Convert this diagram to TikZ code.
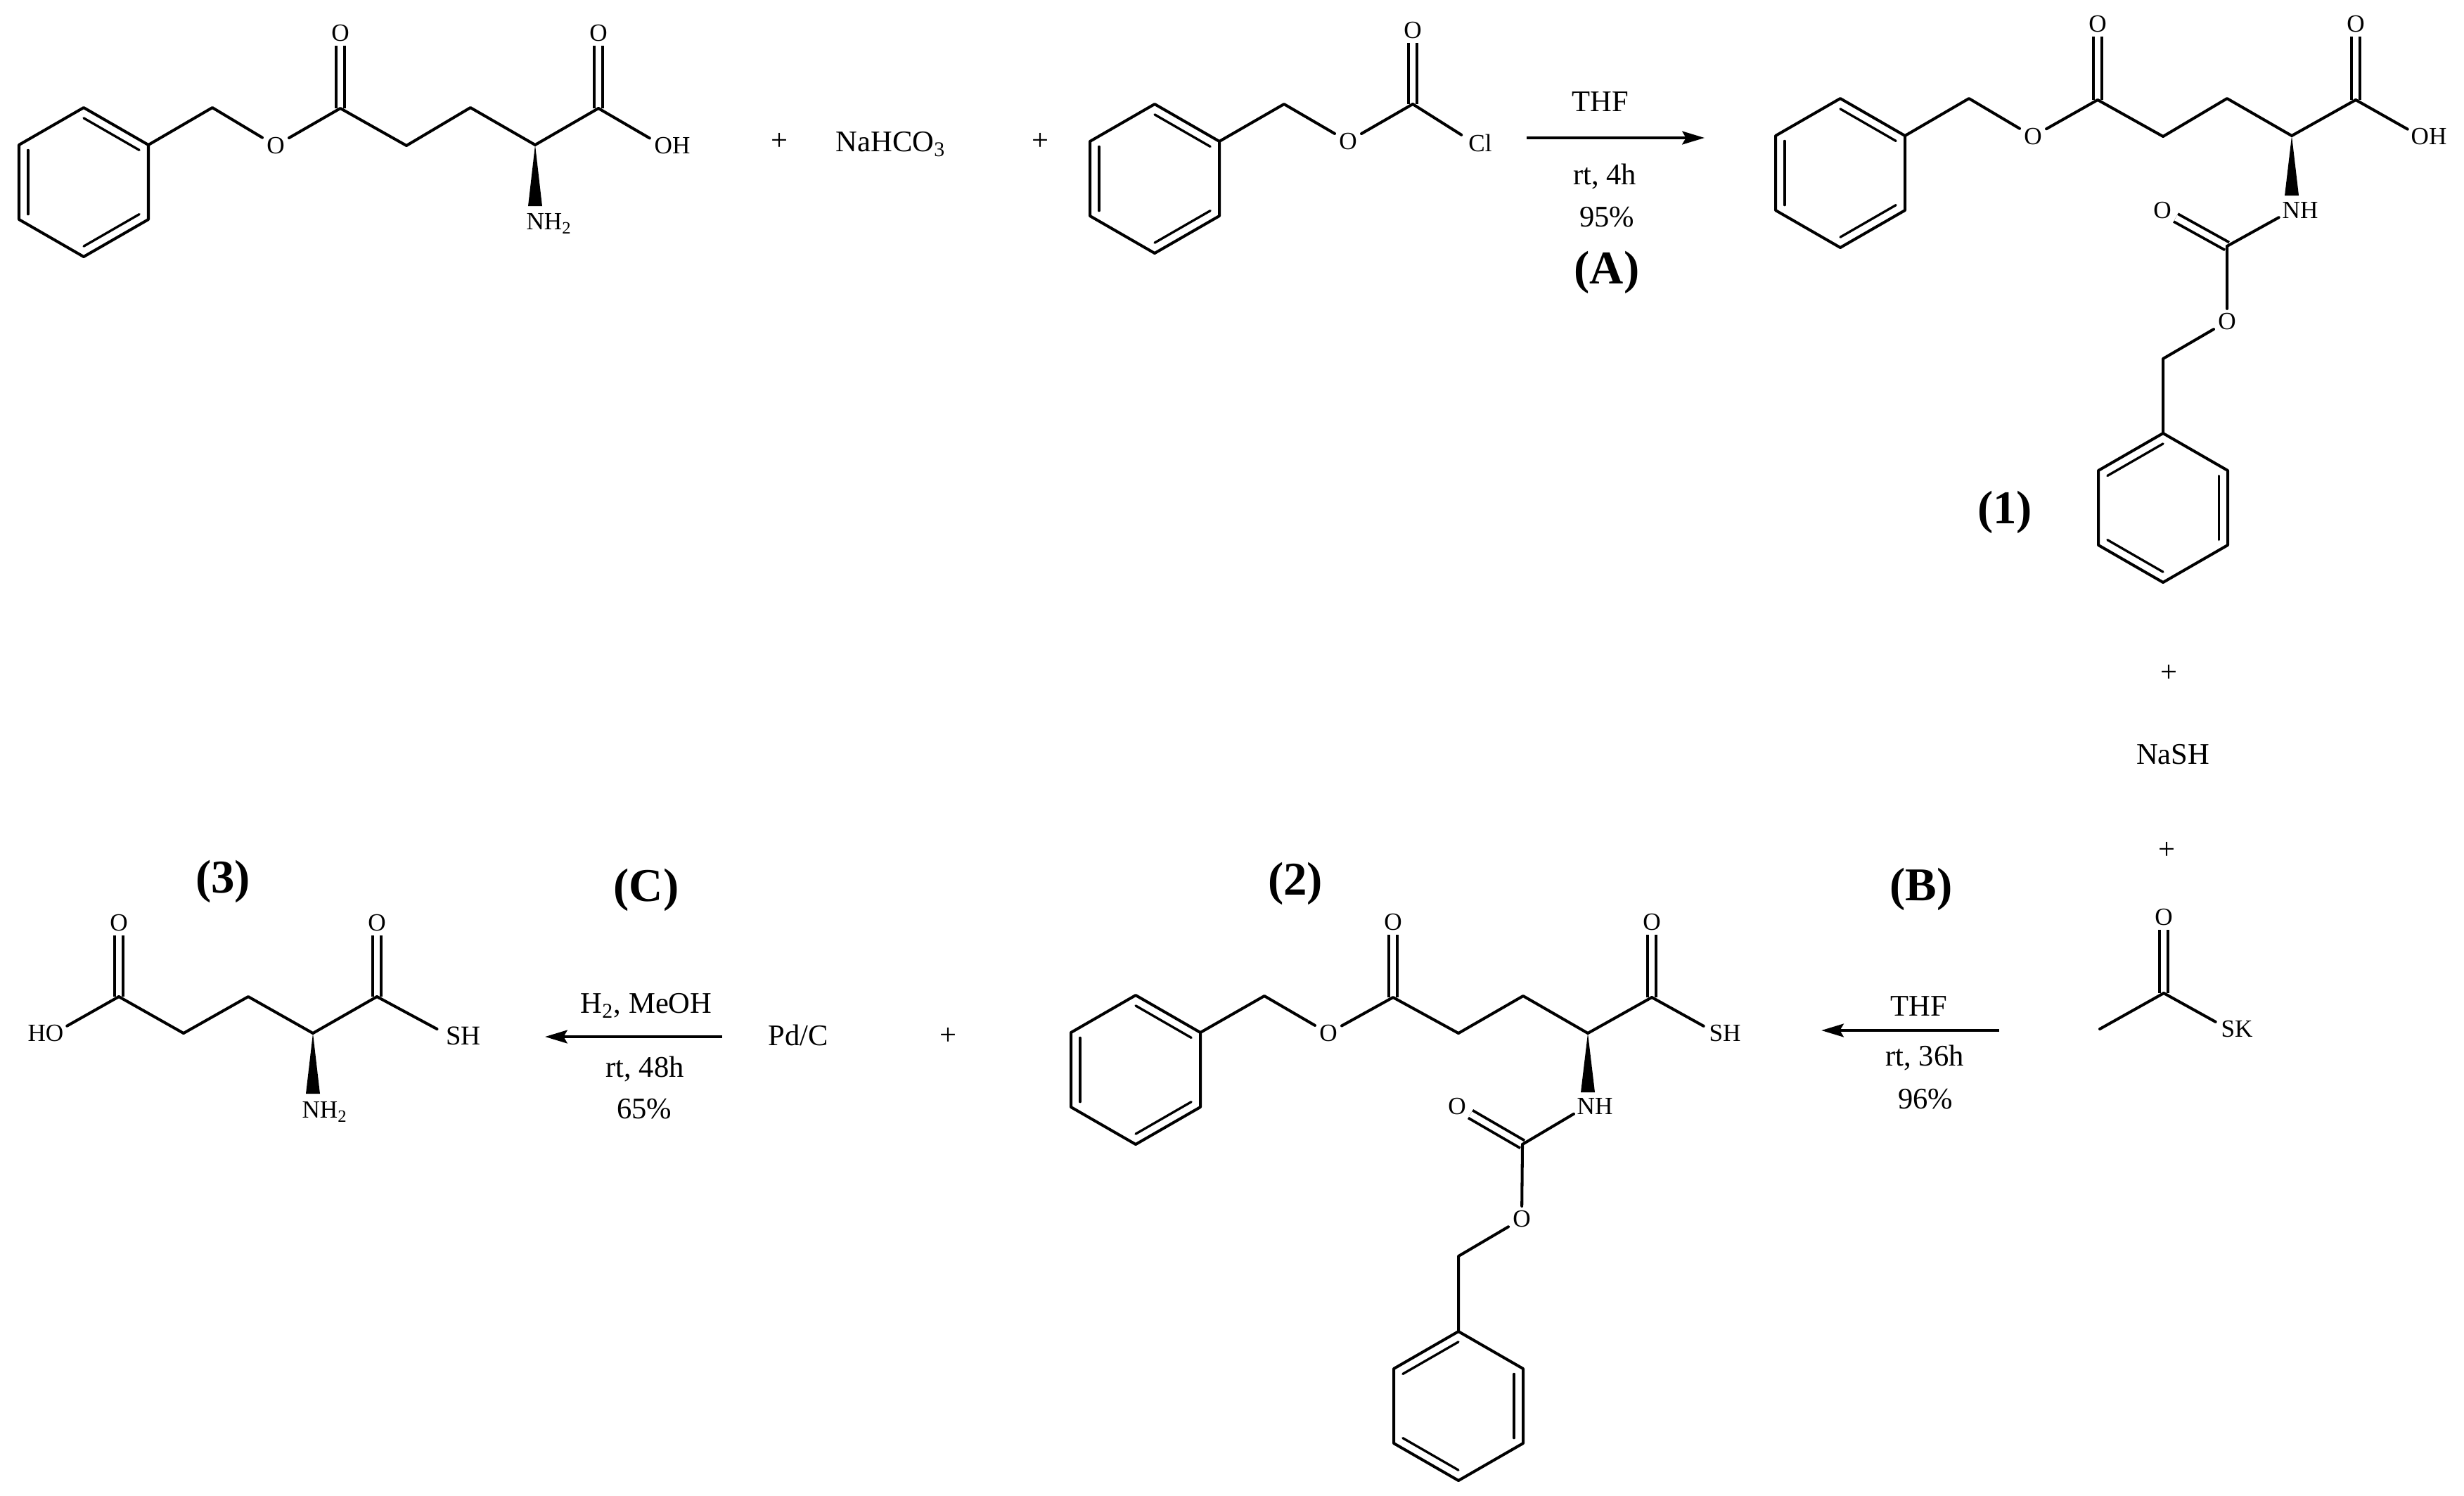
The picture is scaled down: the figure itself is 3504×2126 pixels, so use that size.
\documentclass[tikz,border=0pt]{standalone}
\usepackage{fontspec}
\setmainfont{Liberation Serif}
\usetikzlibrary{calc,arrows.meta}
\tikzset{
  bond/.style={line width=1.15pt,line cap=round,line join=round,black},
  dbl/.style={line width=1.1pt,double,double distance=2.4pt,black},
  tobond/.style={bond,shorten >=2.1mm},
  inner/.style={line width=0.95pt,line cap=round,black},
  atom/.style={font=\fontsize{10}{12}\selectfont,inner sep=1.6pt},
  atomb/.style={font=\fontsize{11}{13}\selectfont,inner sep=1.6pt},
  txt/.style={font=\fontsize{12.1}{15}\selectfont,inner sep=0pt},
  big/.style={font=\fontsize{19}{23}\selectfont\bfseries,inner sep=0pt},
  rxn/.style={line width=1.3pt,black,-{Stealth[length=9pt,width=5.3pt,inset=1.5pt]}}
}
% hexagon: name, centre x, centre y
\newcommand\benz[3]{%
  \coordinate (#1c) at (#2,#3);
  \coordinate (#1a) at (#2,#3-106);
  \coordinate (#1b) at (#2+92,#3-53);
  \coordinate (#1d) at (#2+92,#3+53);
  \coordinate (#1e) at (#2,#3+106);
  \coordinate (#1f) at (#2-92,#3+53);
  \coordinate (#1g) at (#2-92,#3-53);
  \draw[bond] (#1a)--(#1b)--(#1d)--(#1e)--(#1f)--(#1g)--cycle;
}
\newcommand\inb[3]{\draw[inner] ($(#1#2)!0.14!(#1c)$) -- ($(#1#3)!0.14!(#1c)$);}
\newcommand\ringR[1]{\inb{#1}{a}{b}\inb{#1}{d}{e}\inb{#1}{f}{g}}
\newcommand\ringL[1]{\inb{#1}{a}{g}\inb{#1}{b}{d}\inb{#1}{e}{f}}
\newcommand\wdg[2]{\fill[black] (#1) -- ($(#2)+(-10,0)$) -- ($(#2)+(10,0)$) -- cycle;}
\begin{document}
\begin{tikzpicture}[x=0.01cm,y=-0.01cm]
\useasboundingbox (0,0) rectangle (3504,2126);
% ---------- starting amino acid ----------
\benz{ar}{119}{259}\ringR{ar}
\coordinate (am1) at (302,153);
\node[atom] (aO) at (392,207) {O};
\coordinate (ac1) at (484,154);
\node[atom] (aO1) at (484,47) {O};
\coordinate (am2) at (578,207);
\coordinate (am3) at (669,153);
\coordinate (ach) at (761,206);
\coordinate (ac2) at (851,154);
\node[atom] (aO2) at (851,47) {O};
\node[atom] (aOH) at (956,207) {OH};
\coordinate (aOHv) at (942,207);
\coordinate (awe) at (761,293);
\node[atom] (aNH) at (781,318) {NH\textsubscript{2}};
\draw[dbl] (ac1) -- (aO1);
\draw[dbl] (ac2) -- (aO2);
\draw[bond] (arb) -- (am1) -- (aO) -- (ac1) -- (am2) -- (am3) -- (ach) -- (ac2);
\draw[tobond] (ac2) -- (aOHv);
\wdg{ach}{awe}
\node[txt] (p1) at (1108,201) {+};
\node[txt] (nahco) at (1267,205) {NaHCO\textsubscript{3}};
\node[txt] (p2) at (1479,201) {+};
% ---------- benzyl chloroformate ----------
\benz{br}{1642}{254}\ringR{br}
\coordinate (bm1) at (1826,148);
\node[atom] (bO) at (1917,201) {O};
\coordinate (bc1) at (2009,148);
\node[atom] (bO1) at (2009,43) {O};
\node[atom] (bCl) at (2105,203) {Cl};
\coordinate (bClv) at (2096,203);
\draw[dbl] (bc1) -- (bO1);
\draw[bond] (brb) -- (bm1) -- (bO) -- (bc1);
\draw[tobond] (bc1) -- (bClv);
% ---------- reaction A ----------
\coordinate (ra1) at (2171,196);
\coordinate (ra2) at (2424,196);
\draw[rxn] (ra1) -- (ra2);
\node[txt] (raT) at (2276,145) {THF};
\node[txt] (raR) at (2282,251) {rt, 4h};
\node[txt] (raY) at (2285,309) {95\%};
\node[big] (raL) at (2285,387) {(A)};
% ---------- compound 1 ----------
\benz{cr}{2617}{246}\ringR{cr}
\coordinate (cm1) at (2800,140);
\node[atom] (cO) at (2891,194) {O};
\coordinate (cc1) at (2983,142);
\node[atom] (cO1) at (2983,34) {O};
\coordinate (cm2) at (3076,194);
\coordinate (cm3) at (3167,140);
\coordinate (cch) at (3259,193);
\coordinate (cc2) at (3350,142);
\node[atom] (cO2) at (3350,34) {O};
\node[atom] (cOH) at (3454,194) {OH};
\coordinate (cOHv) at (3442,194);
\coordinate (cwe) at (3259,278);
\node[atom] (cNH) at (3271,299) {NH};
\coordinate (cNHv) at (3259,299);
\coordinate (cc3) at (3167,350);
\node[atom] (cO3) at (3075,299) {O};
\node[atom] (cO4) at (3167,457) {O};
\coordinate (cm4) at (3076,510);
\benz{dr}{3076}{722}\ringL{dr}
\draw[dbl] (cc1) -- (cO1);
\draw[dbl] (cc2) -- (cO2);
\draw[dbl] (cc3) -- (cO3);
\draw[bond] (crb) -- (cm1) -- (cO) -- (cc1) -- (cm2) -- (cm3) -- (cch) -- (cc2);
\draw[tobond] (cc2) -- (cOHv);
\wdg{cch}{cwe}
\draw[tobond] (cc3) -- (cNHv);
\draw[bond] (cc3) -- (cO4) -- (cm4) -- (dra);
\node[big] (l1) at (2851,728) {(1)};
% ---------- reagents for B ----------
\node[txt] (p3) at (3084,957) {+};
\node[txt] (nash) at (3090,1073) {NaSH};
\node[txt] (p4) at (3081,1209) {+};
\coordinate (em) at (2986,1463);
\coordinate (ec) at (3077,1412);
\node[atom] (eO) at (3077,1304) {O};
\node[atom] (eSK) at (3181,1463) {SK};
\coordinate (eSKv) at (3169,1463);
\draw[dbl] (ec) -- (eO);
\draw[bond] (em) -- (ec);
\draw[tobond] (ec) -- (eSKv);
% ---------- reaction B ----------
\coordinate (rb1) at (2843,1465);
\coordinate (rb2) at (2590,1465);
\draw[rxn] (rb1) -- (rb2);
\node[big] (rbL) at (2732,1264) {(B)};
\node[txt] (rbT) at (2729,1431) {THF};
\node[txt] (rbR) at (2737,1504) {rt, 36h};
\node[txt] (rbY) at (2738,1563) {96\%};
% ---------- compound 2 ----------
\benz{fr}{1615}{1521}\ringR{fr}
\coordinate (fm1) at (1798,1416);
\node[atom] (fO) at (1889,1469) {O};
\coordinate (fc1) at (1981,1418);
\node[atom] (fO1) at (1981,1311) {O};
\coordinate (fm2) at (2074,1469);
\coordinate (fm3) at (2166,1416);
\coordinate (fch) at (2258,1469);
\coordinate (fc2) at (2349,1418);
\node[atom] (fO2) at (2349,1311) {O};
\node[atom] (fSH) at (2453,1469) {SH};
\coordinate (fSHv) at (2441,1469);
\coordinate (fwe) at (2258,1553);
\node[atom] (fNH) at (2268,1573) {NH};
\coordinate (fNHv) at (2256,1573);
\coordinate (fc3) at (2165,1627);
\node[atom] (fO3) at (2072,1573) {O};
\node[atom] (fO4) at (2164,1733) {O};
\coordinate (fm4) at (2074,1786);
\benz{gr}{2074}{1999}\ringL{gr}
\draw[dbl] (fc1) -- (fO1);
\draw[dbl] (fc2) -- (fO2);
\draw[dbl] (fc3) -- (fO3);
\draw[bond] (frb) -- (fm1) -- (fO) -- (fc1) -- (fm2) -- (fm3) -- (fch) -- (fc2);
\draw[tobond] (fc2) -- (fSHv);
\wdg{fch}{fwe}
\draw[tobond] (fc3) -- (fNHv);
\draw[bond] (fc3) -- (fO4) -- (fm4) -- (gra);
\node[big] (l2) at (1842,1256) {(2)};
% ---------- reaction C ----------
\node[txt] (p5) at (1348,1473) {+};
\node[txt] (pdc) at (1135,1472) {Pd/C};
\coordinate (rc1) at (1027,1474);
\coordinate (rc2) at (775,1474);
\draw[rxn] (rc1) -- (rc2);
\node[big] (rcL) at (919,1265) {(C)};
\node[txt] (rcT) at (919,1430) {H\textsubscript{2}, MeOH};
\node[txt] (rcR) at (917,1520) {rt, 48h};
\node[txt] (rcY) at (916,1577) {65\%};
% ---------- compound 3 ----------
\node[atom] (hHO) at (65,1469) {HO};
\coordinate (hHOv) at (77,1469);
\coordinate (hc1) at (169,1417);
\node[atom] (hO1) at (169,1312) {O};
\coordinate (hm1) at (261,1469);
\coordinate (hm2) at (353,1417);
\coordinate (hch) at (445,1469);
\coordinate (hc2) at (536,1417);
\node[atom] (hO2) at (536,1312) {O};
\node[atomb] (hSH) at (659,1473) {SH};
\coordinate (hSHv) at (640,1473);
\coordinate (hwe) at (445,1555);
\node[atom] (hNH) at (462,1581) {NH\textsubscript{2}};
\draw[dbl] (hc1) -- (hO1);
\draw[dbl] (hc2) -- (hO2);
\draw[tobond] (hc1) -- (hHOv);
\draw[bond] (hc1) -- (hm1) -- (hm2) -- (hch) -- (hc2);
\draw[tobond] (hc2) -- (hSHv);
\wdg{hch}{hwe}
\node[big] (l3) at (317,1253) {(3)};
\end{tikzpicture}
\end{document}
